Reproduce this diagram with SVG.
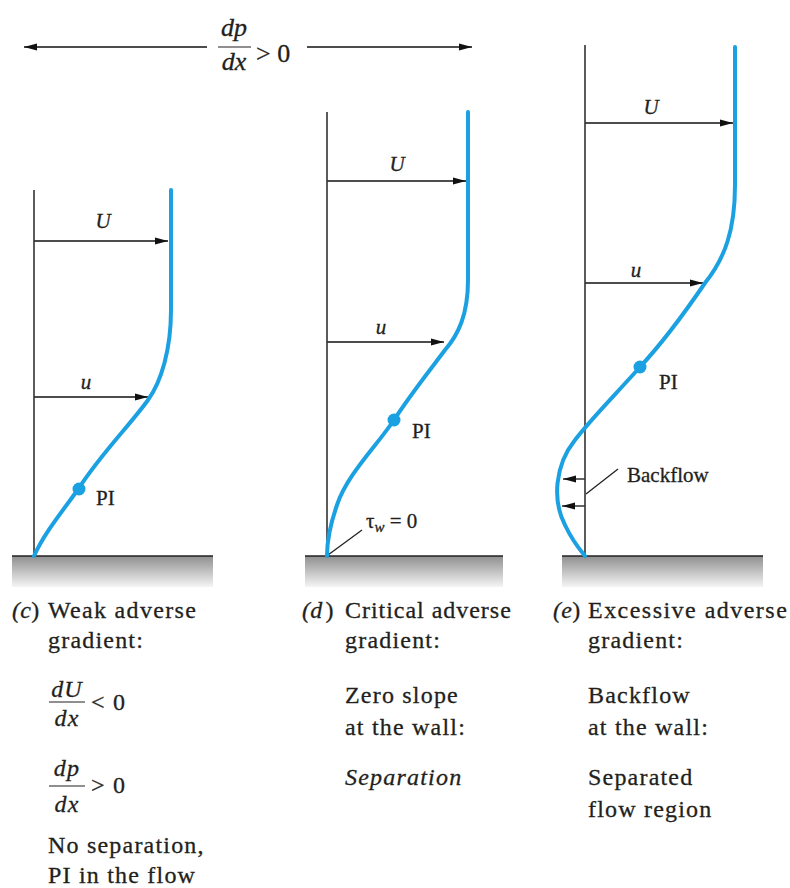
<svg xmlns="http://www.w3.org/2000/svg" width="790" height="888" viewBox="0 0 790 888" font-family="Liberation Serif, DejaVu Serif, serif">
<style>
text{font-family:"Liberation Serif","DejaVu Serif",serif;fill:#231f20;stroke:#231f20;stroke-width:0.3}
.cap{font-size:24px;letter-spacing:1.2px}
.pl{letter-spacing:0.3px}
.lbl{font-size:21px}
.it{font-style:italic}
.wall{stroke:#333;stroke-width:1.6;fill:none}
.arr{stroke:#111;stroke-width:1.3;fill:none;marker-end:url(#ah)}
.prof{stroke:#1ba1e2;stroke-width:4;fill:none;stroke-linecap:round}
.dot{fill:#1ba1e2}
.gnd{fill:url(#gg)}
.gl{stroke:#222;stroke-width:1.6}
.lead{stroke:#222;stroke-width:1.3}
.bar{stroke:#231f20;stroke-width:1.2}
</style>
<defs>
<marker id="ah" markerUnits="userSpaceOnUse" markerWidth="14" markerHeight="8" refX="13" refY="4" orient="auto">
<path d="M0,0.5 L13,4 L0,7.5 Z" fill="#111"/>
</marker>
<linearGradient id="gg" x1="0" y1="0" x2="0" y2="1">
<stop offset="0" stop-color="#8f8f8f"/>
<stop offset="1" stop-color="#f5f5f5"/>
</linearGradient>
</defs>
<rect width="790" height="888" fill="#fff"/>

<g id="pressure-gradient">
<line x1="207" y1="47" x2="24" y2="47" class="arr"/>
<line x1="307" y1="47" x2="472" y2="47" class="arr"/>
<text class="it" x="234" y="36" text-anchor="middle" font-size="26">dp</text>
<line x1="218" y1="47" x2="251" y2="47" class="bar"/>
<text class="it" x="234" y="70" text-anchor="middle" font-size="26">dx</text>
<text x="256" y="62" font-size="26">&gt; 0</text>
</g>

<g id="connectors">
<line x1="34" y1="241" x2="168" y2="241" class="arr"/>
<line x1="34" y1="397" x2="148" y2="397" class="arr"/>
<line x1="327" y1="181" x2="466" y2="181" class="arr"/>
<line x1="327" y1="342" x2="444" y2="342" class="arr"/>
<line x1="585" y1="123" x2="733" y2="123" class="arr"/>
<line x1="585" y1="283" x2="703" y2="283" class="arr"/>
<line x1="585" y1="479" x2="563" y2="479" class="arr"/>
<line x1="585" y1="506" x2="562" y2="506" class="arr"/>
<line x1="328" y1="555" x2="362" y2="530" class="lead"/>
<line x1="586" y1="494" x2="618" y2="469" class="lead"/>
</g>

<g id="panel-c">
<rect x="12" y="556" width="201" height="31" class="gnd"/>
<line x1="12" y1="556" x2="213" y2="556" class="gl"/>
<line x1="34" y1="190" x2="34" y2="556" class="wall"/>
<path class="prof" d="M171,190 L171,310 C171,350 161,382 148,400 C130,425 100,455 79,488 C62,512 45,532 34,556"/>
<circle class="dot" cx="79" cy="489" r="6.5"/>
<text class="it lbl" x="103" y="228" text-anchor="middle">U</text>
<text class="it lbl" x="86" y="389" text-anchor="middle">u</text>
<text class="lbl" x="96" y="505">PI</text>
<text class="cap pl" x="12" y="618"><tspan class="it">(c</tspan>)</text>
<text class="cap" x="48" y="618" textLength="149">Weak adverse</text>
<text class="cap" x="48" y="648">gradient:</text>
<text class="it cap" x="67" y="697" text-anchor="middle">dU</text>
<line x1="49" y1="702" x2="85" y2="702" class="bar"/>
<text class="it cap" x="67" y="726" text-anchor="middle">dx</text>
<text class="cap" x="91" y="710">&lt; 0</text>
<text class="it cap" x="67" y="776" text-anchor="middle">dp</text>
<line x1="49" y1="786" x2="85" y2="786" class="bar"/>
<text class="it cap" x="67" y="812" text-anchor="middle">dx</text>
<text class="cap" x="91" y="793">&gt; 0</text>
<text class="cap" x="48" y="853">No separation,</text>
<text class="cap" x="48" y="883">PI in the flow</text>
</g>

<g id="panel-d">
<rect x="305" y="556" width="198" height="31" class="gnd"/>
<line x1="305" y1="556" x2="503" y2="556" class="gl"/>
<line x1="327" y1="112" x2="327" y2="556" class="wall"/>
<path class="prof" d="M468,112 L468,280 C468,315 458,335 445,350 C430,370 410,395 394,420 C375,448 347,475 337,505 C330,525 327,540 327,556"/>
<circle class="dot" cx="394" cy="420" r="6.5"/>
<text class="it lbl" x="397" y="171" text-anchor="middle">U</text>
<text class="it lbl" x="381" y="334" text-anchor="middle">u</text>
<text class="lbl" x="412" y="438">PI</text>
<text class="lbl" x="366" y="528">τ<tspan class="it" font-size="15" dy="4">w</tspan><tspan dy="-4"> = 0</tspan></text>
<text class="cap pl" x="302" y="618"><tspan class="it">(d</tspan><tspan dx="3">)</tspan></text>
<text class="cap" x="345" y="618" textLength="167">Critical adverse</text>
<text class="cap" x="345" y="648">gradient:</text>
<text class="cap" x="345" y="703">Zero slope</text>
<text class="cap" x="345" y="735">at the wall:</text>
<text class="it cap" x="345" y="785">Separation</text>
</g>

<g id="panel-e">
<rect x="562" y="556" width="201" height="31" class="gnd"/>
<line x1="562" y1="556" x2="763" y2="556" class="gl"/>
<line x1="585" y1="45" x2="585" y2="556" class="wall"/>
<path class="prof" d="M735,47 L735,185 C735,230 725,258 705,283 C690,305 665,340 640,367 C615,395 590,420 575,440 C555,465 552,500 565,525 C572,540 580,550 585,556"/>
<circle class="dot" cx="640" cy="367" r="6.5"/>
<text class="it lbl" x="651" y="114" text-anchor="middle">U</text>
<text class="it lbl" x="636" y="277" text-anchor="middle">u</text>
<text class="lbl" x="659" y="389">PI</text>
<text class="lbl" x="627" y="482">Backflow</text>
<text class="cap pl" x="553" y="618"><tspan class="it">(e</tspan>)</text>
<text class="cap" x="588" y="618" textLength="200">Excessive adverse</text>
<text class="cap" x="588" y="648">gradient:</text>
<text class="cap" x="588" y="703">Backflow</text>
<text class="cap" x="588" y="735">at the wall:</text>
<text class="cap" x="588" y="785">Separated</text>
<text class="cap" x="588" y="817">flow region</text>
</g>
</svg>
